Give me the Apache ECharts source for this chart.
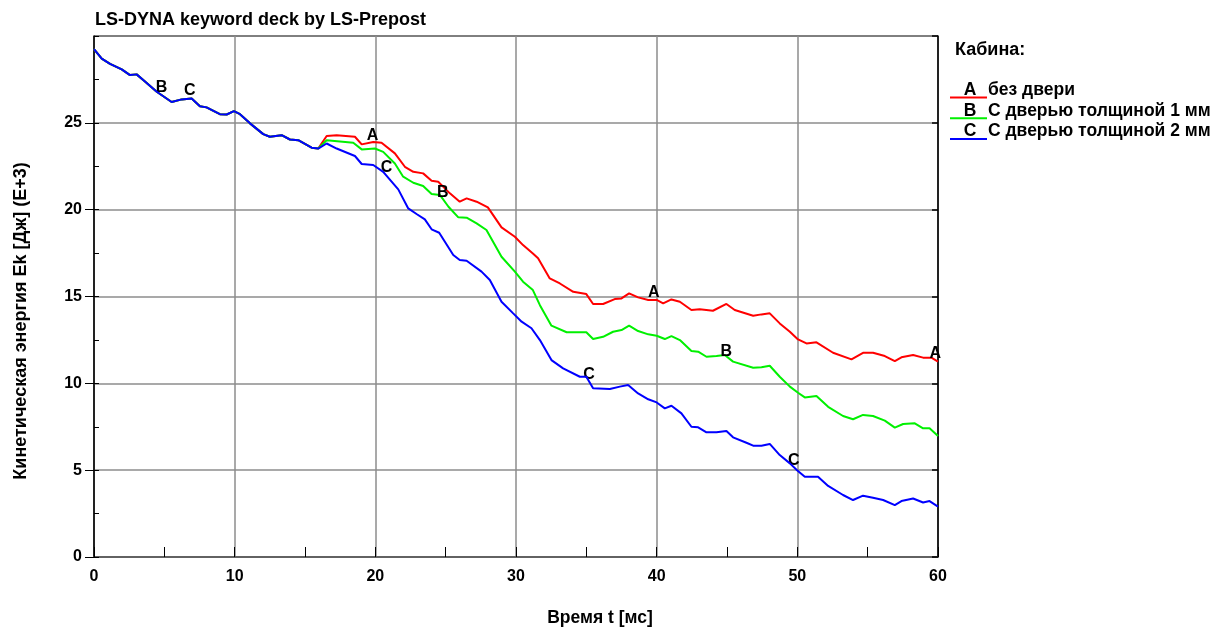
<!DOCTYPE html>
<html>
<head>
<meta charset="utf-8">
<script src="https://cdn.jsdelivr.net/npm/echarts@6/dist/echarts.min.js"></script>
<style>
  html, body { margin: 0; padding: 0; background: #fff; }
  #chart { width: 1216px; height: 627px; }
</style>
</head>
<body>
<div id="chart"></div>
<script>
// Kinetic energy of the cabin vs. time, three door configurations (LS-PrePost export)
const titleText = 'LS-DYNA keyword deck by LS-Prepost';
const xName = 'Время t [мс]';
const yName = 'Кинетическая энергия Ek [Дж] (E+3)';
const legendTitle = 'Кабина:';
const curveLetters = ['A', 'B', 'C'];
const curveNames = ['без двери', 'С дверью толщиной 1 мм', 'С дверью толщиной 2 мм'];
const curveColors = ['#ff0000', '#00f000', '#0000ff'];

// common part of all three curves (t in ms, Ek in kJ)
const sharedStart = [
  [0, 29.24], [0.55, 28.7], [1.14, 28.4], [1.97, 28.08], [2.56, 27.75], [3.03, 27.79],
  [3.5, 27.46], [4.46, 26.79], [5.52, 26.2], [6.23, 26.35], [6.94, 26.4], [7.53, 25.96],
  [8.0, 25.89], [8.95, 25.5], [9.43, 25.48], [9.95, 25.67], [10.38, 25.5], [11.09, 24.97],
  [12.03, 24.35], [12.5, 24.2], [13.34, 24.29], [13.93, 24.04], [14.52, 24.0], [15.47, 23.57],
  [15.94, 23.52]
];

const curveA = [
  [16.54, 24.24], [17.25, 24.28], [18.55, 24.2], [19.03, 23.76], [19.85, 23.9], [20.44, 23.85],
  [21.39, 23.24], [22.1, 22.47], [22.7, 22.18], [23.4, 22.09], [24.0, 21.67], [24.47, 21.61],
  [25.3, 20.94], [26.0, 20.46], [26.49, 20.65], [27.2, 20.46], [28.0, 20.13], [28.97, 18.98],
  [29.92, 18.44], [30.5, 17.96], [31.2, 17.48], [31.57, 17.2], [32.4, 16.04], [33.12, 15.75],
  [34.07, 15.27], [35.0, 15.14], [35.48, 14.57], [36.19, 14.57], [37.02, 14.85], [37.5, 14.89],
  [38.04, 15.18], [38.68, 14.95], [39.4, 14.8], [40.0, 14.8], [40.46, 14.6], [41.05, 14.83],
  [41.65, 14.7], [42.47, 14.22], [43.06, 14.26], [44.0, 14.18], [44.96, 14.57], [45.55, 14.22],
  [46.86, 13.89], [47.45, 13.97], [48.04, 14.03], [48.75, 13.45], [49.47, 12.97], [50.05, 12.53],
  [50.65, 12.3], [51.36, 12.36], [52.54, 11.76], [53.85, 11.38], [54.67, 11.76], [55.38, 11.76],
  [56.22, 11.57], [56.93, 11.28], [57.4, 11.5], [58.23, 11.63], [58.94, 11.48], [59.53, 11.48],
  [60, 11.25]
];

const curveB = [
  [16.54, 24.0], [18.43, 23.85], [19.03, 23.47], [19.97, 23.52], [20.56, 23.33], [21.39, 22.66],
  [21.98, 21.9], [22.7, 21.55], [23.4, 21.36], [24.0, 20.9], [24.6, 20.84], [25.2, 20.17],
  [25.9, 19.56], [26.49, 19.54], [27.2, 19.21], [27.9, 18.83], [28.97, 17.29], [29.92, 16.43],
  [30.5, 15.85], [31.2, 15.37], [31.7, 14.5], [32.52, 13.32], [33.6, 12.94], [35.0, 12.94],
  [35.48, 12.55], [36.19, 12.68], [36.9, 12.97], [37.5, 13.07], [38.04, 13.32], [38.68, 13.01],
  [39.4, 12.82], [40.0, 12.74], [40.58, 12.55], [41.05, 12.72], [41.65, 12.49], [42.47, 11.86],
  [42.95, 11.82], [43.54, 11.53], [44.25, 11.57], [44.84, 11.63], [45.43, 11.25], [46.86, 10.9],
  [47.45, 10.92], [48.04, 11.01], [48.75, 10.38], [49.47, 9.81], [50.05, 9.46], [50.53, 9.19],
  [51.36, 9.27], [52.19, 8.65], [53.25, 8.12], [53.96, 7.93], [54.67, 8.18], [55.38, 8.12],
  [56.22, 7.85], [56.93, 7.45], [57.52, 7.66], [58.35, 7.7], [58.94, 7.41], [59.4, 7.41],
  [60, 6.97]
];

const curveC = [
  [16.54, 23.81], [17.25, 23.52], [18.55, 23.09], [19.03, 22.63], [19.85, 22.57], [20.56, 22.18],
  [21.63, 21.17], [22.34, 20.07], [22.93, 19.75], [23.52, 19.44], [24.0, 18.87], [24.54, 18.67],
  [25.54, 17.39], [26.0, 17.1], [26.49, 17.06], [27.55, 16.43], [28.14, 15.95], [28.97, 14.7],
  [29.8, 14.03], [30.4, 13.55], [31.1, 13.17], [31.7, 12.49], [32.52, 11.34], [33.35, 10.86],
  [34.54, 10.38], [35.0, 10.38], [35.48, 9.71], [36.67, 9.67], [37.38, 9.81], [37.97, 9.9],
  [38.68, 9.42], [39.4, 9.08], [40.0, 8.9], [40.58, 8.56], [41.05, 8.71], [41.76, 8.27],
  [42.47, 7.5], [42.95, 7.47], [43.54, 7.18], [44.25, 7.18], [44.96, 7.25], [45.43, 6.89],
  [46.38, 6.58], [46.86, 6.41], [47.45, 6.41], [48.04, 6.51], [48.75, 5.87], [49.47, 5.39],
  [49.98, 5.0], [50.53, 4.62], [51.47, 4.62], [52.19, 4.09], [53.25, 3.57], [53.96, 3.28],
  [54.67, 3.53], [55.38, 3.41], [56.1, 3.28], [56.93, 2.99], [57.4, 3.22], [58.23, 3.37],
  [58.94, 3.14], [59.4, 3.22], [60, 2.9]
];

// curve letter tags placed on the lines: [t, Ek at the line]
const tagsA = [[19.8, 23.8], [39.8, 14.75], [59.8, 11.25]];
const tagsB = [[4.8, 26.55], [24.8, 20.55], [44.95, 11.35]];
const tagsC = [[6.8, 26.4], [20.8, 21.95], [35.2, 10.05], [49.75, 5.1]];

const xTicks = { min: 0, max: 60, step: 10 };
const yTicks = { min: 0, max: 30, step: 5 };
const yLabelValues = [0, 5, 10, 15, 20, 25];

const FONT = '"Liberation Sans", Arial, sans-serif';
const curves = [sharedStart.concat(curveA), sharedStart.concat(curveB), sharedStart.concat(curveC)];
const tags = [tagsA, tagsB, tagsC];

const chart = echarts.init(document.getElementById('chart'), null, { renderer: 'canvas' });

const series = curves.map((data, i) => ({
  name: curveNames[i],
  type: 'line',
  data: data,
  showSymbol: false,
  symbol: 'none',
  animation: false,
  z: 3 + i,
  lineStyle: { color: curveColors[i], width: 2 },
  markPoint: {
    symbol: 'circle',
    symbolSize: 1,
    itemStyle: { color: 'rgba(0,0,0,0)' },
    label: {
      show: true,
      position: 'inside',
      offset: [0, -8],
      formatter: curveLetters[i],
      color: '#000',
      fontFamily: FONT,
      fontWeight: 'bold',
      fontSize: 16
    },
    data: tags[i].map(p => ({ coord: p }))
  }
}));

// legend block on the right: header, then underlined letter + description per curve
const legendGraphics = [{
  type: 'text',
  x: 955, y: 50,
  style: { text: legendTitle, fill: '#000', font: 'bold 18px ' + FONT, verticalAlign: 'middle' }
}];
curveNames.forEach((name, i) => {
  const rowMid = 90 + 20.8 * i;
  legendGraphics.push({
    type: 'line',
    shape: { x1: 950, y1: rowMid + 7.5, x2: 987, y2: rowMid + 7.5 },
    style: { stroke: curveColors[i], lineWidth: 2 }
  });
  legendGraphics.push({
    type: 'text',
    x: 970, y: rowMid,
    style: { text: curveLetters[i], fill: '#000', font: 'bold 17.5px ' + FONT, align: 'center', verticalAlign: 'middle' }
  });
  legendGraphics.push({
    type: 'text',
    x: 988, y: rowMid,
    style: { text: name, fill: '#000', font: 'bold 17.5px ' + FONT, verticalAlign: 'middle' }
  });
});

const axisFont = { color: '#000', fontFamily: FONT, fontWeight: 'bold', fontSize: 16 };

chart.setOption({
  backgroundColor: '#fff',
  animation: false,
  title: {
    text: titleText,
    left: 90, top: 6,
    textStyle: { color: '#000', fontFamily: FONT, fontWeight: 'bold', fontSize: 18 }
  },
  grid: {
    left: 94, top: 36, right: 278, bottom: 70,
    outerBoundsMode: 'none',
    containLabel: false,
    show: true, borderColor: '#000', borderWidth: 1, backgroundColor: 'transparent'
  },
  xAxis: {
    type: 'value',
    min: xTicks.min, max: xTicks.max, interval: xTicks.step,
    name: xName,
    nameLocation: 'middle',
    nameGap: 52,
    nameTextStyle: Object.assign({}, axisFont, { fontSize: 17.5, padding: [0, 0, 0, 168] }),
    axisLine: { show: true, onZero: false, lineStyle: { color: '#555', width: 1.5 } },
    axisTick: { show: true, inside: true, length: 10, lineStyle: { color: '#000' } },
    minorTick: { show: true, splitNumber: 2, length: 10, lineStyle: { color: '#000' } },
    axisLabel: Object.assign({}, axisFont, { margin: 12 }),
    splitLine: { show: true, lineStyle: { color: '#8c8c8c', width: 1.5 } }
  },
  yAxis: [{
    type: 'value',
    min: yTicks.min, max: yTicks.max, interval: yTicks.step,
    name: yName,
    nameLocation: 'middle',
    nameGap: 64,
    nameTextStyle: Object.assign({}, axisFont, { fontSize: 18, padding: [0, 49, 0, 0] }),
    axisLine: { show: true, onZero: false, lineStyle: { color: '#000', width: 1.5 } },
    axisTick: { show: true, inside: false, length: 9, customValues: yLabelValues, lineStyle: { color: '#000' } },
    axisLabel: Object.assign({}, axisFont, { margin: 12, customValues: yLabelValues }),
    splitLine: { show: true, lineStyle: { color: '#8c8c8c', width: 1.5 } }
  }, {
    // inner half-step ticks along the left edge
    type: 'value', position: 'left',
    min: yTicks.min, max: yTicks.max, interval: yTicks.step / 2,
    axisLine: { show: false },
    axisTick: { show: true, inside: true, length: 5, lineStyle: { color: '#000' } },
    axisLabel: { show: false },
    splitLine: { show: false }
  }, {
    // inner ticks along the right edge
    type: 'value', position: 'right',
    min: yTicks.min, max: yTicks.max, interval: yTicks.step,
    axisLine: { show: true, lineStyle: { color: '#000', width: 1.5 } },
    axisTick: { show: true, inside: true, length: 6, lineStyle: { color: '#000', width: 1.5 } },
    axisLabel: { show: false },
    splitLine: { show: false }
  }],
  graphic: legendGraphics,
  series: series
});
</script>
</body>
</html>
